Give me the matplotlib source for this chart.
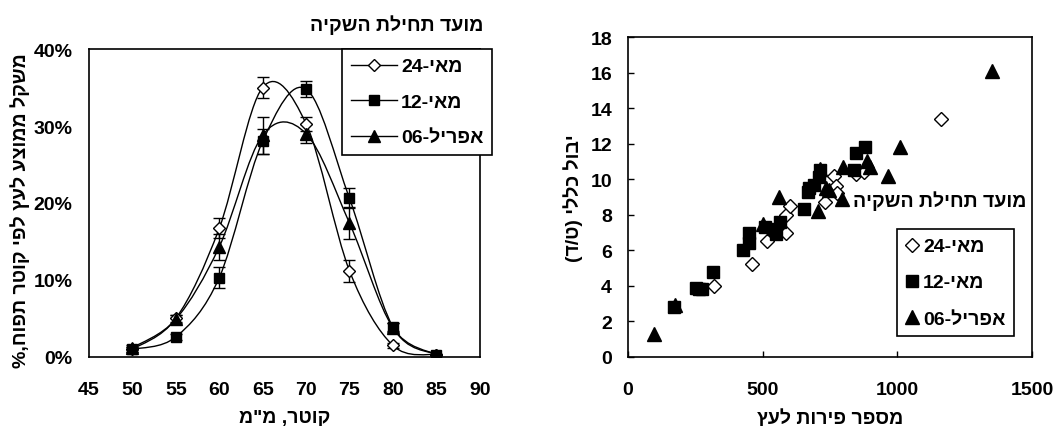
import re
import matplotlib
matplotlib.use('Agg')
import matplotlib.pyplot as plt
from matplotlib.path import Path
from matplotlib.patches import PathPatch
from matplotlib.lines import Line2D
from matplotlib.ticker import PercentFormatter

plt.rcParams['font.family'] = ['Liberation Sans', 'DejaVu Sans']
plt.rcParams['font.weight'] = 'bold'

# --- data: left chart (fruit size distribution) ---
diam = [50, 55, 60, 65, 70, 75, 80, 85]
may24 = [1.0, 5.0, 16.7, 35.0, 30.3, 11.2, 1.5, 0.3]
may24_err = [0.3, 0.5, 1.3, 1.4, 0.9, 1.4, 0.3, 0.1]
may12 = [1.0, 2.6, 10.3, 28.0, 34.8, 20.6, 3.9, 0.3]
may12_err = [0.3, 0.4, 1.4, 1.6, 1.0, 1.3, 0.5, 0.1]
apr06 = [1.2, 4.9, 14.3, 28.8, 29.0, 17.4, 3.8, 0.3]
apr06_err = [0.3, 0.5, 1.7, 2.4, 1.2, 2.1, 0.6, 0.1]

# --- data: right chart (fruit number vs yield) ---
d24_x = [318, 459, 516, 585, 585, 602, 732, 765, 771, 777, 845, 876, 1161]
d24_y = [4.0, 5.25, 6.5, 7.0, 8.0, 8.5, 8.7, 10.2, 9.6, 9.2, 10.3, 10.4, 13.4]
d12_x = [171, 251, 263, 275, 316, 426, 451, 451, 508, 539, 551, 563,
         655, 667, 673, 692, 710, 712, 839, 845, 879]
d12_y = [2.8, 3.9, 3.8, 3.85, 4.8, 6.0, 7.0, 6.4, 7.3, 7.2, 6.9, 7.6,
         8.3, 9.3, 9.5, 9.7, 10.1, 10.5, 10.5, 11.5, 11.8]
d06_x = [95, 175, 502, 560, 704, 712, 735, 747, 796, 798, 888, 900, 965, 1010, 1350]
d06_y = [1.3, 2.9, 7.5, 9.0, 8.2, 10.6, 9.5, 9.4, 8.9, 10.7, 11.0, 10.7, 10.2, 11.8, 16.1]

lbl24 = 'מאי-24'
lbl12 = 'מאי-12'
lbl06 = 'אפריל-06'
legend_title = 'מועד תחילת השקיה'


def rtl(s):
    # matplotlib has no bidi support, so lay Hebrew out right-to-left by hand
    s = s[::-1]
    s = re.sub(r'\d+', lambda m: m.group(0)[::-1], s)
    return s.translate(str.maketrans('()', ')('))


def smooth(ax, x, y):
    # Excel style smoothed line: cubic bezier through the points
    n = len(x)
    verts = [(x[0], y[0])]
    codes = [Path.MOVETO]
    for i in range(n - 1):
        xa, ya = (x[i - 1], y[i - 1]) if i > 0 else (x[i], y[i])
        xb, yb = (x[i + 2], y[i + 2]) if i + 2 < n else (x[i + 1], y[i + 1])
        verts.append((x[i] + (x[i + 1] - xa) / 6, y[i] + (y[i + 1] - ya) / 6))
        verts.append((x[i + 1] - (xb - x[i]) / 6, y[i + 1] - (yb - y[i]) / 6))
        verts.append((x[i + 1], y[i + 1]))
        codes += [Path.CURVE4] * 3
    ax.add_patch(PathPatch(Path(verts, codes), fill=False, lw=1.0, ec='black', zorder=2))


fig = plt.figure(figsize=(10.59, 4.27), dpi=100)
ax1 = fig.add_axes([0.084, 0.1616, 0.369, 0.7213])
ax2 = fig.add_axes([0.593, 0.1616, 0.3815, 0.7494])

FS = 14

# left chart
styles = [
    (may24, may24_err, dict(marker='D', ms=6.5, mfc='white', mec='black', mew=1.0), lbl24),
    (may12, may12_err, dict(marker='s', ms=7, mfc='black', mec='black'), lbl12),
    (apr06, apr06_err, dict(marker='^', ms=8, mfc='black', mec='black'), lbl06),
]
handles = []
for vals, err, st, lab in styles:
    smooth(ax1, diam, vals)
    ax1.errorbar(diam, vals, yerr=err, fmt='none', ecolor='black', elinewidth=1.0,
                 capsize=4.5, capthick=1.0, zorder=3)
    ax1.plot(diam, vals, ls='none', zorder=4, **st)
    handles.append(Line2D([], [], color='black', lw=1.0, label=rtl(lab), **st))

ax1.set_xlim(45, 90)
ax1.set_ylim(0, 40)
ax1.set_xticks(range(45, 91, 5))
ax1.set_yticks(range(0, 41, 10))
ax1.yaxis.set_major_formatter(PercentFormatter(decimals=0))
ax1.tick_params(length=0, labelsize=FS)
ax1.tick_params(axis='y', pad=12)
ax1.tick_params(axis='x', pad=17)
for sp in ax1.spines.values():
    sp.set_linewidth(1.2)
ax1.set_xlabel(rtl('קוטר, מ"מ'), fontsize=FS, fontweight='bold')
ax1.xaxis.set_label_coords(0.5, -0.168)
ax1.set_ylabel(rtl('משקל ממוצע לעץ לפי קוטר תפוח,%'), fontsize=FS, fontweight='bold')
ax1.yaxis.set_label_coords(-0.152, 0.48)
leg1 = ax1.legend(handles=handles, loc='upper left', bbox_to_anchor=(0.647, 1.0),
                  fontsize=FS, handlelength=2.4, handletextpad=0.2, borderpad=0.45,
                  borderaxespad=0, labelspacing=0.92, fancybox=False, framealpha=1)
leg1.get_frame().set_edgecolor('black')
leg1.get_frame().set_linewidth(1.2)
ax1.text(1.01, 1.08, rtl(legend_title), transform=ax1.transAxes, ha='right', va='center',
         fontsize=FS, fontweight='bold')

# right chart
ax2.plot(d24_x, d24_y, ls='none', marker='D', ms=7, mfc='white', mec='black', mew=1.0, zorder=3)
ax2.plot(d06_x, d06_y, ls='none', marker='^', ms=9.5, mfc='black', mec='black', zorder=4)
ax2.plot(d12_x, d12_y, ls='none', marker='s', ms=8.5, mfc='black', mec='black', zorder=5)
h2 = [
    Line2D([], [], ls='none', marker='D', ms=7, mfc='white', mec='black', mew=1.0, label=rtl(lbl24)),
    Line2D([], [], ls='none', marker='s', ms=8.5, mfc='black', mec='black', label=rtl(lbl12)),
    Line2D([], [], ls='none', marker='^', ms=9.5, mfc='black', mec='black', label=rtl(lbl06)),
]
ax2.set_xlim(0, 1500)
ax2.set_ylim(0, 18)
ax2.set_xticks([0, 500, 1000, 1500])
ax2.set_yticks(range(0, 19, 2))
ax2.tick_params(direction='in', length=4, width=1.0, labelsize=FS)
ax2.tick_params(axis='y', pad=11.5)
ax2.tick_params(axis='x', pad=17)
for sp in ax2.spines.values():
    sp.set_linewidth(1.2)
ax2.set_xlabel(rtl('מספר פירות לעץ'), fontsize=FS, fontweight='bold')
ax2.xaxis.set_label_coords(0.5, -0.158)
ax2.set_ylabel(rtl('יבול כללי (ט/ד)'), fontsize=FS, fontweight='bold')
ax2.yaxis.set_label_coords(-0.111, 0.5)
leg2 = ax2.legend(handles=h2, loc='upper left', bbox_to_anchor=(0.665, 0.4),
                  fontsize=FS, handlelength=0.7, handletextpad=0.2, borderpad=0.45,
                  borderaxespad=0, labelspacing=0.95, fancybox=False, framealpha=1)
leg2.get_frame().set_edgecolor('black')
leg2.get_frame().set_linewidth(1.2)
ax2.text(0.985, 0.49, rtl(legend_title), transform=ax2.transAxes, ha='right', va='center',
         fontsize=FS, fontweight='bold')

fig.savefig('out.png', dpi=100)
